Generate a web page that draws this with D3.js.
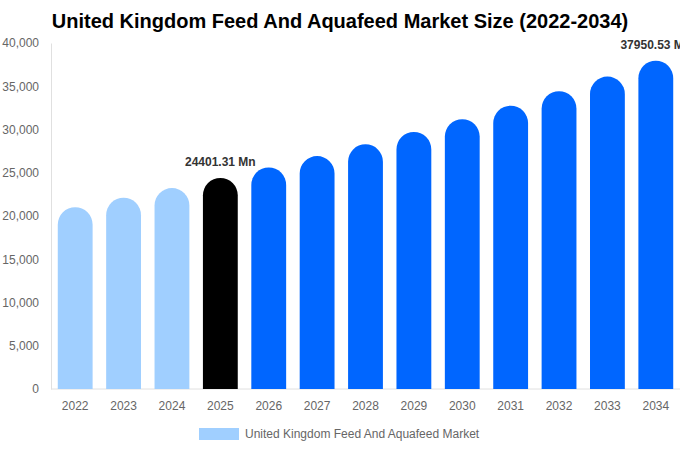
<!DOCTYPE html>
<html lang="en">
<head>
<meta charset="utf-8">
<title>United Kingdom Feed And Aquafeed Market Size (2022-2034)</title>
<script src="https://cdnjs.cloudflare.com/ajax/libs/d3/7.8.5/d3.min.js"></script>
<style>
    body { margin: 0; background: #fff; }
    svg text { font-family: "Liberation Sans", Arial, sans-serif; }
</style>
</head>
<body>
<div id="chart"></div>
<script>
    // chart data
    var years = ["2022", "2023", "2024", "2025", "2026", "2027", "2028",
                 "2029", "2030", "2031", "2032", "2033", "2034"];
    var marketSize = [21020, 22110, 23230, 24401.31, 25620, 26930, 28290,
                      29710, 31190, 32760, 34430, 36120, 37950.53];
    var yTicks = [0, 5000, 10000, 15000, 20000, 25000, 30000, 35000, 40000];
    var labelled = ["2025", "2034"];
    var seriesName = "United Kingdom Feed And Aquafeed Market";
    var chartTitle = "United Kingdom Feed And Aquafeed Market Size (2022-2034)";

    var width = 680, height = 450;
    var margin = {top: 43, right: 0, bottom: 61, left: 51};

    var svg = d3.select("#chart").append("svg")
        .attr("width", width)
        .attr("height", height);

    var x = d3.scaleBand()
        .domain(years)
        .range([margin.left, width - margin.right])
        .paddingInner(0.28)
        .paddingOuter(0.14);

    var y = d3.scaleLinear()
        .domain([0, 40000])
        .range([height - margin.bottom, margin.top]);

    function barColor(year) {
        if (year < "2025") return "#a0cfff";
        if (year === "2025") return "#000000";
        return "#0066ff";
    }

    // title
    svg.append("text")
        .attr("x", 340)
        .attr("y", 28)
        .attr("text-anchor", "middle")
        .style("font-size", "20px")
        .style("font-weight", "bold")
        .style("fill", "#000")
        .text(chartTitle);

    // y axis
    var yAxis = svg.append("g")
        .attr("transform", "translate(" + margin.left + ",0)")
        .call(d3.axisLeft(y).tickValues(yTicks).tickSize(0).tickPadding(12)
            .tickFormat(d3.format(",")));
    yAxis.select(".domain").attr("stroke", "#e0e0e0");
    yAxis.selectAll("text").style("font-size", "12px").style("fill", "#666");

    // x axis
    var xAxis = svg.append("g")
        .attr("transform", "translate(0," + (height - margin.bottom) + ")")
        .call(d3.axisBottom(x).tickSize(0).tickPadding(12));
    xAxis.select(".domain").attr("stroke", "#e0e0e0")
        .attr("d", "M" + margin.left + ",0H" + width);
    xAxis.selectAll("text").style("font-size", "12px").style("fill", "#666");

    // rounded-top bars
    function barPath(d, i) {
        var x0 = x(years[i]), w = x.bandwidth();
        var yb = y(0), yt = y(d);
        var r = Math.min(w / 2, yb - yt);
        return "M" + x0 + "," + yb +
            "V" + (yt + r) +
            "A" + r + "," + r + " 0 0 1 " + (x0 + w) + "," + (yt + r) +
            "V" + yb + "Z";
    }

    svg.append("g").selectAll("path")
        .data(marketSize)
        .join("path")
        .attr("d", barPath)
        .attr("fill", function (d, i) { return barColor(years[i]); });

    // value labels
    svg.append("g").selectAll("text")
        .data(marketSize.filter(function (d, i) { return labelled.indexOf(years[i]) >= 0; }))
        .join("text")
        .attr("x", function (d) { return x(years[marketSize.indexOf(d)]) + x.bandwidth() / 2; })
        .attr("y", function (d) { return y(d) - 12; })
        .attr("text-anchor", "middle")
        .style("font-size", "12px")
        .style("font-weight", "bold")
        .style("fill", "#333")
        .text(function (d) { return d3.format(".2f")(d) + " Mn"; });

    // legend
    var legend = svg.append("g").attr("transform", "translate(199,428)");
    legend.append("rect")
        .attr("width", 40)
        .attr("height", 12)
        .attr("fill", "#a0cfff");
    legend.append("text")
        .attr("x", 46)
        .attr("y", 10)
        .style("font-size", "12px")
        .style("fill", "#666")
        .text(seriesName);
</script>
</body>
</html>
